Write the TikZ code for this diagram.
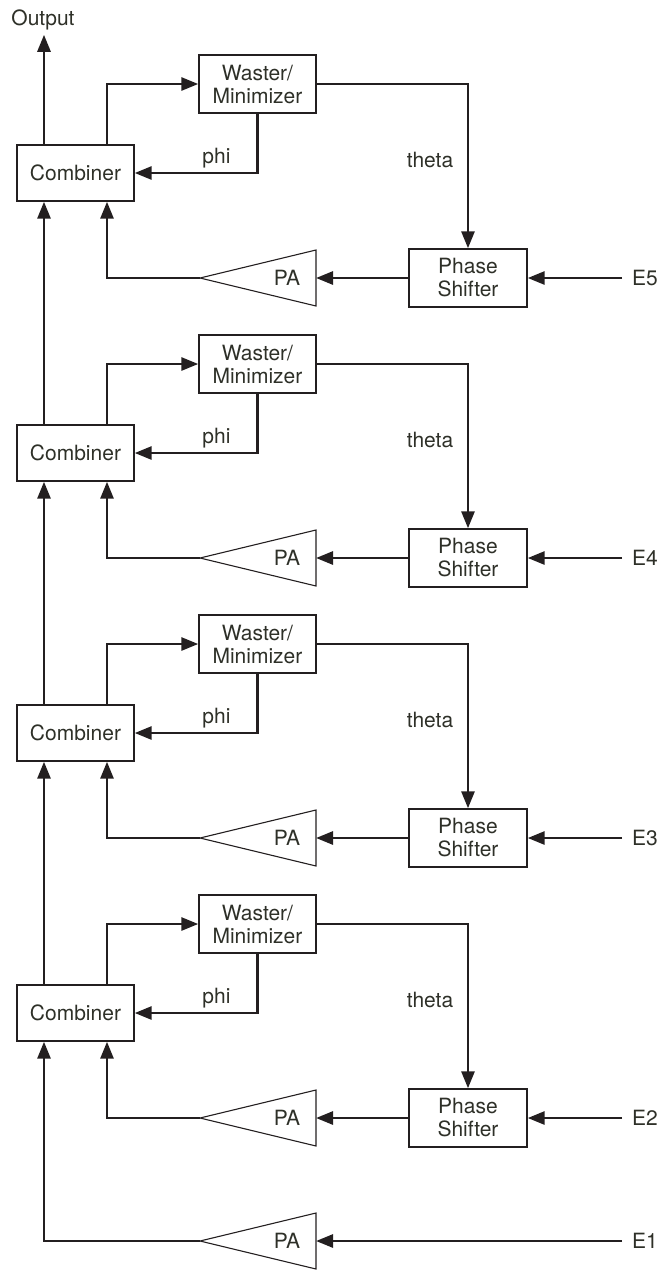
\documentclass[tikz,border=0pt]{standalone}
\usepackage{fontspec}
\setmainfont{TeX Gyre Heros}
\usetikzlibrary{arrows.meta}
\definecolor{ink}{RGB}{35,31,32}
\definecolor{txt}{RGB}{46,48,40}
\begin{document}
\begin{tikzpicture}[x=1pt,y=-1pt,
  font=\fontsize{21}{23}\selectfont,
  every node/.style={text=txt},
  blk/.style={draw=ink,line width=1.4pt,fill=white,align=center,inner sep=0pt},
  comb/.style={blk,minimum width=117pt,minimum height=56pt},
  wbox/.style={blk,minimum width=117pt,minimum height=58pt},
  pbox/.style={blk,minimum width=118pt,minimum height=58pt},
  tri/.style={draw=ink,line width=1.1pt,line join=miter},
  arr/.style={draw=ink,line width=2.8pt,-{Triangle[length=17pt,width=13pt]}},
  lbl/.style={inner sep=0pt,anchor=base}]
\useasboundingbox (0,0) rectangle (663,1270);

% one stage per input E5..E2
\foreach \i/\e in {0/5,1/4,2/3,3/2}{
  \pgfmathsetmacro{\dy}{280*\i}
  \node[comb] (comb\i) at (75.5,173+\dy) {Combiner};
  \node[wbox] (wast\i) at (257.5,84+\dy) {Waster/\\Minimizer};
  \node[pbox] (phase\i) at (468,278+\dy) {Phase\\Shifter};
  % power amplifier triangle
  \draw[tri] (316,250+\dy) -- (316,306+\dy) -- (200,278+\dy) -- cycle;
  \node (pa\i) at (287,278+\dy) {PA};
  \coordinate (pain\i) at (316,278+\dy);
  \coordinate (paout\i) at (200,278+\dy);
  \node[lbl] (phi\i) at (216.5,163+\dy) {phi};
  \node[lbl] (theta\i) at (430,167+\dy) {theta};
  \node[anchor=west,inner sep=0pt] (E\e) at (632,278+\dy) {E\e};
  \coordinate (ein\e) at (622,278+\dy);
  % connectors
  \draw[arr] ([xshift=31.5pt]comb\i.north) |- (wast\i.west);
  \draw[arr] (wast\i.south) |- (comb\i.east);
  \draw[arr] (wast\i.east) -| (phase\i.north);
  \draw[arr] (phase\i.west) -- (pain\i);
  \draw[arr] (paout\i) -| ([xshift=31.5pt]comb\i.south);
  \draw[arr] (ein\e) -- (phase\i.east);
}

% chain of combiners
\foreach \i/\j in {0/1,1/2,2/3}{
  \draw[arr] ([xshift=-31.5pt]comb\j.north) -- ([xshift=-31.5pt]comb\i.south);
}

% output
\node[lbl,inner sep=5pt] (out) at (43,25) {Output};
\coordinate (outtop) at ([xshift=-31.5pt]comb0.north);
\draw[arr] (outtop) -- (outtop |- out.south);

% first input E1
\draw[tri] (316,1213) -- (316,1269) -- (200,1241) -- cycle;
\node (pa4) at (287,1241) {PA};
\coordinate (pain4) at (316,1241);
\coordinate (paout4) at (200,1241);
\node[anchor=west,inner sep=0pt] (E1) at (632,1241) {E1};
\coordinate (ein1) at (622,1241);
\draw[arr] (ein1) -- (pain4);
\draw[arr] (paout4) -| ([xshift=-31.5pt]comb3.south);
\end{tikzpicture}
\end{document}
